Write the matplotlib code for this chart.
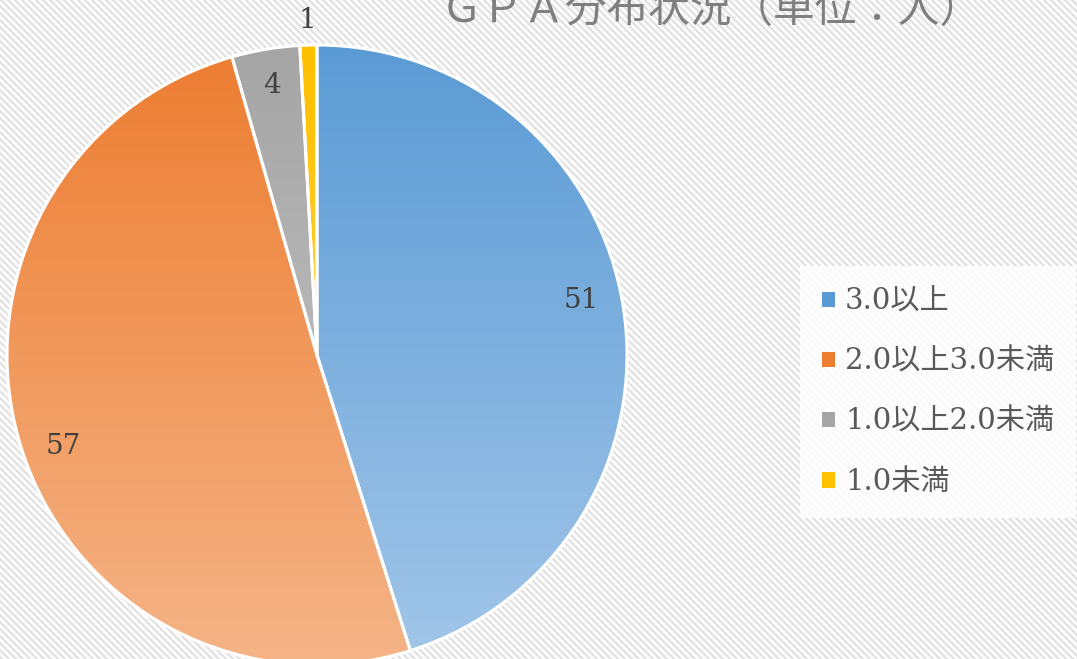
import numpy as np
import matplotlib
matplotlib.use("Agg")
import matplotlib.pyplot as plt
from matplotlib.patches import Patch
from matplotlib.colors import to_rgb

# ---- data ----
categories = ["3.0以上", "2.0以上3.0未満", "1.0以上2.0未満", "1.0未満"]
counts = [51, 57, 4, 1]
title = "ＧＰＡ分布状況（単位：人）"
top_colors = ["#5B9BD5", "#ED7D31", "#A5A5A5", "#FFC000"]
bottom_colors = ["#A2C6E9", "#F5B487", "#CACACA", "#FFDA6A"]

W, H = 1077, 659
fig = plt.figure(figsize=(W / 100, H / 100), dpi=100)
ax = fig.add_axes([0, 0, 1, 1])

# background diagonal stripes
yy, xx = np.mgrid[0:H, 0:W]
stripe = ((xx - yy) % 7) < 3
bg = np.ones((H, W, 3))
bg[stripe] = to_rgb("#e2e2e2")
bg[~stripe] = to_rgb("#fbfbfb")
ax.imshow(bg, extent=[0, W, 0, H], origin="upper", zorder=0, interpolation="nearest")

cx, cy, R = 317, H - 355, 310
total = sum(counts)

def fmt(pct):
    return f"{int(round(pct * total / 100.0))}"

wedges, texts, autotexts = ax.pie(
    counts, startangle=90, counterclock=False, center=(cx, cy), radius=R,
    colors=top_colors, autopct=fmt, pctdistance=0.87,
    wedgeprops=dict(edgecolor="white", linewidth=2.2),
    textprops=dict(fontsize=20, color="#404040", family=["DejaVu Serif", "Noto Sans CJK JP"]),
)

# vertical gradients clipped to each wedge
for w, c0, c1 in zip(wedges, top_colors, bottom_colors):
    a, b = np.array(to_rgb(c0)), np.array(to_rgb(c1))
    t = np.linspace(0, 1, 256)[:, None]
    grad = (a[None, :] * (1 - t) + b[None, :] * t)[:, None, :]
    im = ax.imshow(grad, extent=[cx - R, cx + R, cy - R, cy + R], origin="upper",
                   aspect="auto", zorder=2, interpolation="bilinear")
    im.set_clip_path(w)
    w.set_facecolor("none")
    w.set_zorder(3)

# label placement (best-fit style): small angular shift for big slices, outside for tiny one
label_shift = [3.0, 3.0, 0.0, 0.0]
label_radius = [0.87, 0.87, 0.88, 1.08]
for w, t_, sh, rr in zip(wedges, autotexts, label_shift, label_radius):
    ang = np.deg2rad((w.theta1 + w.theta2) / 2 + sh)
    t_.set_position((cx + rr * R * np.cos(ang), cy + rr * R * np.sin(ang)))
    t_.set_zorder(4)

ax.set_xlim(0, W)
ax.set_ylim(0, H)
ax.set_aspect("auto")
ax.axis("off")

# title (partially cut at top, as in the reference)
ax.text(711, H - 10, title, ha="center", va="center", fontsize=30, color="#7f7f7f",
        family=["Noto Sans CJK JP", "DejaVu Sans"], zorder=5)

handles = [Patch(facecolor=c, edgecolor="none") for c in top_colors]
leg = fig.legend(handles, categories, loc="center left",
                 bbox_to_anchor=(800 / W, 1 - 392 / H), borderaxespad=0,
                 borderpad=0.75, handlelength=0.45, handleheight=0.45,
                 handletextpad=0.35, labelspacing=1.1, frameon=True,
                 fancybox=False, prop=dict(family=["DejaVu Serif", "Noto Sans CJK JP"], size=21))
leg.get_frame().set_facecolor("white")
leg.get_frame().set_alpha(0.85)
leg.get_frame().set_edgecolor("none")
for t_ in leg.get_texts():
    t_.set_color("#595959")

fig.savefig("out.png", dpi=100)
